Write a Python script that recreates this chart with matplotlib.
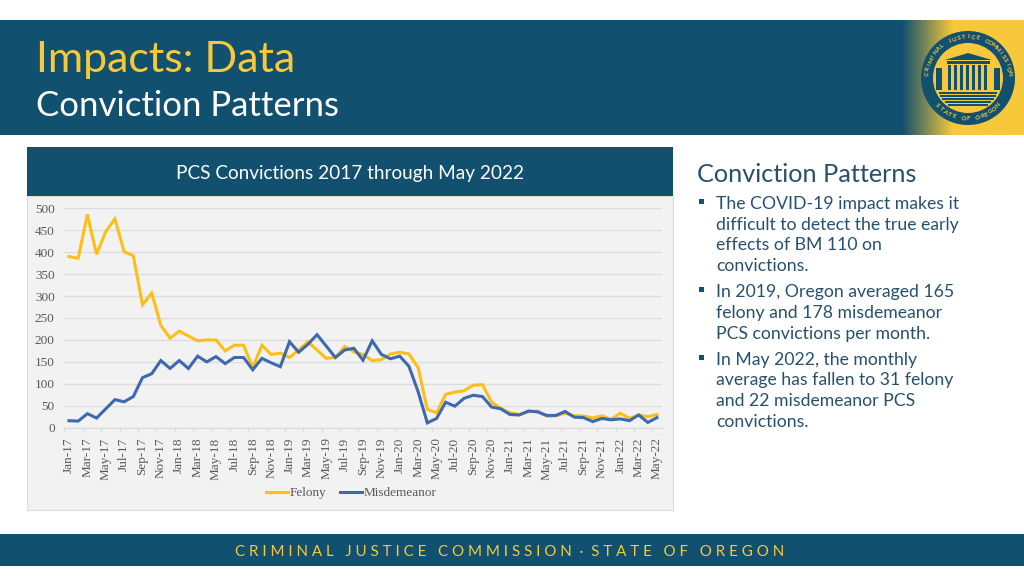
import matplotlib
matplotlib.use("Agg")
import matplotlib.pyplot as plt
import numpy as np
from matplotlib.patches import Rectangle, Circle, Polygon

months = ["Jan","Feb","Mar","Apr","May","Jun","Jul","Aug","Sep","Oct","Nov","Dec"]
categories = [f"{months[i%12]}-{17+i//12}" for i in range(65)]
felony = [390,386,486,395,447,476,401,392,280,307,233,204,
          220,209,198,200,200,175,188,188,137,188,167,170,
          160,177,196,177,158,160,185,173,167,153,155,168,
          172,168,137,42,34,76,81,84,97,98,58,44,
          34,30,36,38,26,27,33,27,27,22,27,19,
          33,21,29,25,30]
misdemeanor = [16,15,32,22,43,64,59,71,114,123,153,135,
               153,135,163,150,162,146,160,160,132,158,148,139,
               196,172,190,212,186,160,177,181,154,198,167,157,
               163,140,82,11,21,58,49,67,74,71,47,43,
               30,29,38,36,28,28,37,24,23,14,21,18,
               20,16,29,12,23]
bullets = [
    ["The COVID-19 impact makes it","difficult to detect the true early","effects of BM 110 on","convictions."],
    ["In 2019, Oregon averaged 165","felony and 178 misdemeanor","PCS convictions per month."],
    ["In May 2022, the monthly","average has fallen to 31 felony","and 22 misdemeanor PCS","convictions."],
]
footer = "C R I M I N A L   J U S T I C E   C O M M I S S I O N  ·  S T A T E   O F   O R E G O N"

W, H = 1024, 576
NAVY = "#11506f"
GOLD = "#f7c93a"
BODY = "#27506e"
SANS = "Lato"
fig = plt.figure(figsize=(W/100, H/100), dpi=100, facecolor="white")
bg = fig.add_axes([0,0,1,1]); bg.set_xlim(0,W); bg.set_ylim(H,0); bg.axis("off")

def rect(x0,y0,x1,y1,c,z=1,**k):
    bg.add_patch(Rectangle((x0,y0),x1-x0,y1-y0,fc=c,ec=k.pop("ec","none"),zorder=z,**k))

# banners
rect(0,20,1024,135,NAVY)
rect(0,534,1024,566,NAVY)
# logo gradient
c0 = np.array(matplotlib.colors.to_rgb(NAVY)); c1 = np.array(matplotlib.colors.to_rgb(GOLD))
t = np.clip(np.linspace(0,1,124)/0.42,0,1)[None,:,None]
grad = c0*(1-t)+c1*t
bg.imshow(grad,extent=(902,1024,135,20),aspect="auto",zorder=2)
bg.set_xlim(0,W); bg.set_ylim(H,0)
# seal
cx, cy = 968, 78
bg.add_patch(Circle((cx,cy),47,fc=NAVY,ec="none",zorder=3))
bg.add_patch(Circle((cx,cy),35,fc=GOLD,ec="none",zorder=4))
bg.add_patch(Polygon([(945,60),(968,53),(992,60)],fc=NAVY,ec="none",zorder=5))
rect(947,61,990,64,NAVY,5)
for xs in range(948,990,6):
    rect(xs,65,xs+3,90,NAVY,5)
rect(936,68,942,90,NAVY,5); rect(994,68,1000,90,NAVY,5)
for ys in range(92,107,3):
    hw = (35**2-(ys-cy)**2)**.5-3
    rect(cx-hw,ys,cx+hw,ys+1.5,NAVY,5)
def arc_text(s, r, start, end, top=True):
    for ch, a in zip(s, np.linspace(start,end,len(s))):
        ar = np.radians(a)
        xp = cx + r*np.sin(ar); yp = cy - r*np.cos(ar)
        rot = -a if top else 180-a
        bg.text(xp,yp,ch,color=GOLD,fontsize=4.6,fontweight="bold",family=SANS,
                ha="center",va="center",rotation=rot,zorder=6)
arc_text("CRIMINAL JUSTICE COMMISSION",41,-84,84)
arc_text("STATE OF OREGON",41,228,132,top=False)

# header text
bg.text(36,60,"Impacts: Data",color=GOLD,fontsize=31,family=SANS,va="center",ha="left")
bg.text(36,106,"Conviction Patterns",color="white",fontsize=25,family=SANS,va="center",ha="left")
bg.text(510,551.5,footer,color=GOLD,fontsize=10.9,family=SANS,va="center",ha="center")

# chart panel
rect(27,196,673,510,"#f2f2f2",1,ec="#dcdcdc",lw=0.8)
rect(27,147,673,196,NAVY,2)
bg.text(350,174,"PCS Convictions 2017 through May 2022",color="white",fontsize=13.7,family=SANS,va="center",ha="center")

# chart
L,R,T,B = 64.4,661.6,208.3,427.7
ax = fig.add_axes([L/W,1-B/H,(R-L)/W,(B-T)/H],facecolor="none")
x = np.arange(len(categories))
ax.plot(x,felony,color="#fcbf17",lw=2.2,label="Felony",solid_joinstyle="miter",zorder=3)
ax.plot(x,misdemeanor,color="#3f69ae",lw=2.2,label="Misdemeanor",solid_joinstyle="miter",zorder=4)
ax.set_xlim(-0.5,64.5); ax.set_ylim(0,500)
ax.set_yticks(range(0,501,50))
ax.grid(axis="y",color="#dcdcdc",lw=0.9); ax.set_axisbelow(True)
ax.set_xticks(x[::2]); ax.set_xticklabels(categories[::2],rotation=90,family="Liberation Serif",fontsize=9.5,color="#595959")
ax.set_xticks(np.arange(-0.5,65,2),minor=True)
ax.tick_params(axis="x",which="major",length=0,pad=7)
ax.tick_params(axis="x",which="minor",length=3,color="#d9d9d9",width=0.8)
ax.tick_params(axis="y",length=0,pad=7,labelsize=9.5,labelcolor="#595959")
for l in ax.get_yticklabels(): l.set_family("Liberation Serif")
for s in ["top","right","left"]: ax.spines[s].set_visible(False)
ax.spines["bottom"].set_color("#d9d9d9")
ax.legend(loc="center",bbox_to_anchor=((351.5-L)/(R-L),-(493-B)/(B-T)),ncol=2,frameon=False,
          prop={"family":"Liberation Serif","size":9.5},labelcolor="#595959",handlelength=1.67,
          handletextpad=0.15,columnspacing=1.0,borderpad=0)

# right text
bg.text(697,174,"Conviction Patterns",color=BODY,fontsize=18.2,family=SANS,va="center",ha="left")
yt = 204; lh = 20.7
for lines in bullets:
    bg.add_patch(Rectangle((699,yt-5),5,5,fc=NAVY,ec="none",zorder=3))
    for ln in lines:
        bg.text(716,yt,ln,color=BODY,fontsize=12.7,family=SANS,va="center",ha="left")
        yt += lh
    yt += 5.4
fig.savefig("out.png",dpi=100)
